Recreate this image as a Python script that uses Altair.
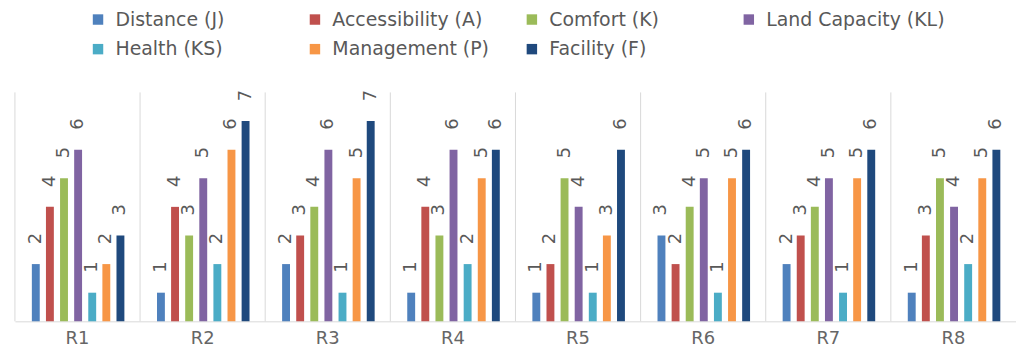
import altair as alt
import pandas as pd

categories = ["R1", "R2", "R3", "R4", "R5", "R6", "R7", "R8"]
series = ["Distance (J)", "Accessibility (A)", "Comfort (K)", "Land Capacity (KL)",
          "Health (KS)", "Management (P)", "Facility (F)"]
colors = ["#4f81bd", "#c0504d", "#9bbb59", "#8064a2", "#4bacc6", "#f79646", "#1f497d"]

distance = [2, 1, 2, 1, 1, 3, 2, 1]
accessibility = [4, 4, 3, 4, 2, 2, 3, 3]
comfort = [5, 3, 4, 3, 5, 4, 4, 5]
land_capacity = [6, 5, 6, 6, 4, 5, 5, 4]
health = [1, 2, 1, 2, 1, 1, 1, 2]
management = [2, 6, 5, 5, 3, 5, 5, 5]
facility = [3, 7, 7, 6, 6, 6, 6, 6]

values = [distance, accessibility, comfort, land_capacity, health, management, facility]
rows = []
for s, vals in zip(series, values):
    for c, v in zip(categories, vals):
        rows.append({"region": c, "series": s, "value": v})
df = pd.DataFrame(rows)
sep_df = pd.DataFrame({"region": categories})

FONT = "DejaVu Sans"
GRAY = "#595959"
LINE = "#d9d9d9"

x_enc = alt.X("region:N", sort=categories,
              scale=alt.Scale(paddingInner=0, paddingOuter=0),
              axis=alt.Axis(title=None, labelAngle=0, labelAlign="center", ticks=False,
                            grid=False, domainColor=LINE, labelFont=FONT, labelFontSize=18,
                            labelColor="#666666", labelPadding=17))
xo_enc = alt.XOffset("series:N", sort=series,
                     scale=alt.Scale(paddingInner=0.44, paddingOuter=0, range=[17, 110]))
y_enc = alt.Y("value:Q", scale=alt.Scale(domain=[0, 8]), axis=None)

seps = alt.Chart(sep_df).mark_rule(color=LINE, strokeWidth=1).encode(
    x=alt.X("region:N", sort=categories, bandPosition=0),
    y=alt.value(0), y2=alt.value(230))

bars = alt.Chart(df).mark_bar().encode(
    x=x_enc, xOffset=xo_enc, y=y_enc,
    color=alt.Color("series:N", sort=series,
                    scale=alt.Scale(domain=series, range=colors),
                    legend=alt.Legend(title=None, orient="none", direction="horizontal",
                                      legendX=74, legendY=-83,
                                      columns=4, symbolType="square", symbolSize=110,
                                      symbolStrokeWidth=0, labelFont=FONT, labelFontSize=19,
                                      labelColor=GRAY, labelOffset=8, columnPadding=11,
                                      rowPadding=10, gridAlign="all", padding=0,
                                      labelLimit=400)))

labels = alt.Chart(df).mark_text(angle=270, align="left", baseline="middle", dx=20,
                                 font=FONT, fontSize=18, color=GRAY).encode(
    x=x_enc, xOffset=xo_enc, y=y_enc, text=alt.Text("value:Q", format="d"))

chart = alt.layer(seps, bars, labels).properties(
    width=1006, height=230, autosize="none",
    padding={"left": 15, "top": 92, "right": 0, "bottom": 37}
).configure_view(stroke=None)

chart.save("out.html", embed_options={"renderer": "svg", "actions": False})
